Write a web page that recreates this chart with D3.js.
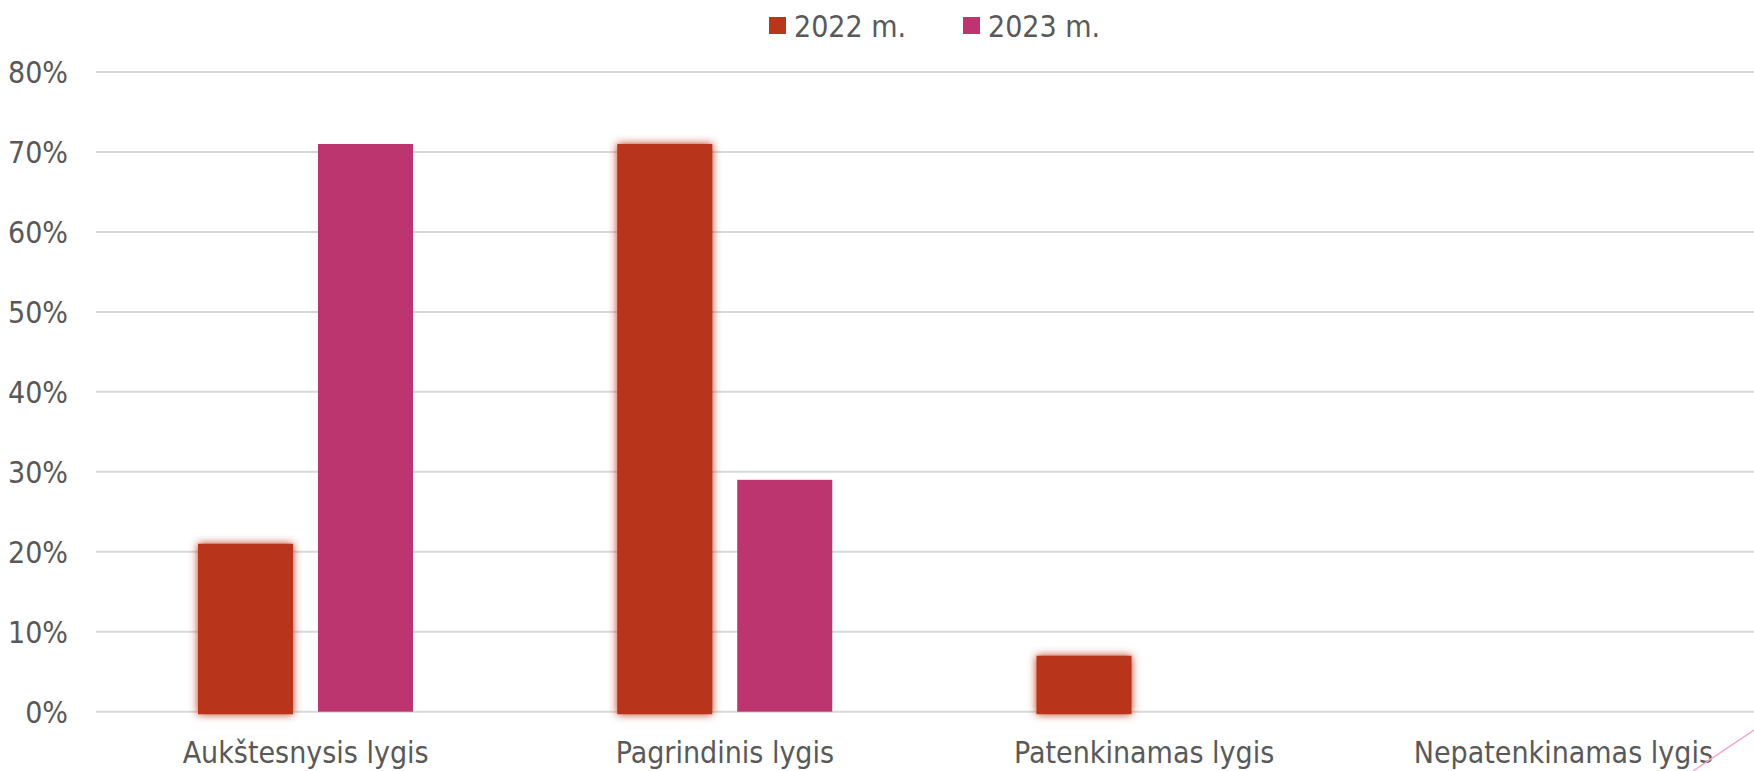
<!DOCTYPE html>
<html><head><meta charset="utf-8">
<script src="https://cdn.jsdelivr.net/npm/d3@7"></script>
<style>body{margin:0;background:#fff;} text{font-family:"DejaVu Sans Condensed","DejaVu Sans",sans-serif;fill:#595959;}</style>
</head><body><svg id="c" width="1754" height="771"></svg>
<script>
const categories = ["Aukštesnysis lygis","Pagrindinis lygis","Patenkinamas lygis","Nepatenkinamas lygis"];
const seriesNames = ["2022 m.","2023 m."];
const values2022 = [21,71,7,0];
const values2023 = [71,29,0,0];
const yTicks = [0,10,20,30,40,50,60,70,80];
const colors = ["#B8361A","#BC356E"];

const svg = d3.select("#c");
const W = 1754, H = 771;
const x = d3.scaleBand().domain(categories).range([96,1773]).paddingInner(0).paddingOuter(0);
const y = d3.scaleLinear().domain([0,80]).range([711.7,72]);
const xs = d3.scaleBand().domain(seriesNames).range([102,317]).paddingInner(0.208);

const defs = svg.append("defs");
const f = defs.append("filter").attr("id","glow").attr("x","-20%").attr("y","-20%").attr("width","140%").attr("height","140%");
f.append("feGaussianBlur").attr("in","SourceGraphic").attr("stdDeviation",4).attr("result","b");
const m = f.append("feMerge"); m.append("feMergeNode").attr("in","b"); m.append("feMergeNode").attr("in","SourceGraphic");

// gridlines + y labels
const yAxis = d3.axisLeft(y).tickValues(yTicks).tickFormat(d=>d+"%").tickSize(0).tickPadding(28);
const ga = svg.append("g").attr("transform","translate(96,0)").call(yAxis);
ga.select(".domain").remove();
ga.selectAll("text").attr("font-size",30).attr("dy","0.35em").style("font-family","'DejaVu Sans Condensed',sans-serif").attr("fill","#595959");
svg.append("g").selectAll("line").data(yTicks).join("line")
  .attr("x1",96).attr("x2",W).attr("y1",d=>y(d)).attr("y2",d=>y(d))
  .attr("stroke","#D9D9D9").attr("stroke-width",2);

const data = categories.map((c,i)=>({c, v:[values2022[i],values2023[i]]}));
const g = svg.append("g");
data.forEach(d=>{
  seriesNames.forEach((s,j)=>{
    const v = d.v[j];
    if (v<=0) return;
    const r = g.append("rect")
      .attr("x", x(d.c)+xs(s)).attr("width", xs.bandwidth())
      .attr("y", y(v)).attr("height", y(0)-y(v) + (j===0?2.5:0))
      .attr("fill", colors[j]);
    if (j===0) r.attr("filter","url(#glow)");
  });
});

// x axis labels
const xAxis = d3.axisBottom(x).tickSize(0).tickPadding(0);
const gx = svg.append("g").attr("transform","translate(0,740)").call(xAxis);
gx.select(".domain").remove();
gx.selectAll("text").attr("font-size",30).attr("dy","0.78em").style("font-family","'DejaVu Sans Condensed',sans-serif").attr("fill","#595959");

// legend
const leg = svg.append("g");
const legX = [769, 963];
seriesNames.forEach((s,j)=>{
  leg.append("rect").attr("x",legX[j]).attr("y",17).attr("width",17).attr("height",17).attr("fill",colors[j]);
  leg.append("text").attr("x",legX[j]+25).attr("y",36.5).attr("font-size",30).text(s);
});

// corner decoration
svg.append("line").attr("x1",1754).attr("y1",730).attr("x2",1693).attr("y2",771).attr("stroke","#F4A6CF").attr("stroke-width",1.5);
</script></body></html>
